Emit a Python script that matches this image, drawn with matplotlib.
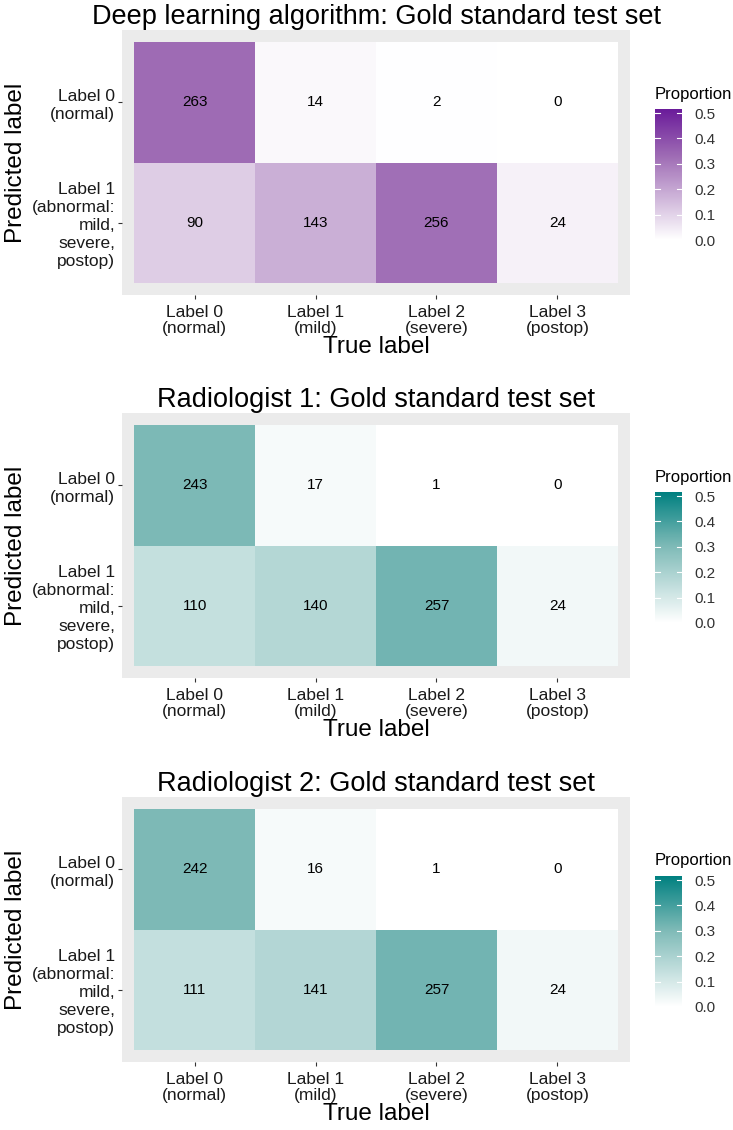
import numpy as np
import matplotlib
matplotlib.use("Agg")
import matplotlib.pyplot as plt
from matplotlib.colors import LinearSegmentedColormap, Normalize
from matplotlib.colorbar import ColorbarBase

plt.rcParams["font.family"] = ["Liberation Sans", "DejaVu Sans"]

# %% Datos

true_labels = ["Label 0\n(normal)", "Label 1\n(mild)", "Label 2\n(severe)", "Label 3\n(postop)"]
pred_labels = ["Label 0\n(normal)", "Label 1\n(abnormal:\nmild,\nsevere,\npostop)"]

titulos = ["Deep learning algorithm: Gold standard test set",
           "Radiologist 1: Gold standard test set",
           "Radiologist 2: Gold standard test set"]

# filas: prediccion 0, prediccion 1 ; columnas: etiqueta real 0..3
deep = [[263, 14, 2, 0],
        [90, 143, 256, 24]]
rad1 = [[243, 17, 1, 0],
        [110, 140, 257, 24]]
rad2 = [[242, 16, 1, 0],
        [111, 141, 257, 24]]

matrices = [deep, rad1, rad2]
# blanco -> color intermedio -> color alto (imita la interpolacion de ggplot)
paletas = [["#FFFFFF", "#9E6BB4", "#6A1B9A"],
           ["#FFFFFF", "#7CB9B6", "#008080"],
           ["#FFFFFF", "#7CB9B6", "#008080"]]
pos_medio = [0.644, 0.595, 0.595]
vmax = 0.516

# %% Grafico

W, H = 733, 1130
fig = plt.figure(figsize=(W / 100, H / 100), dpi=100)

panel_tops = [30, 413, 797]
panel_h = 265

for k in range(3):
    m = np.array(matrices[k], dtype=float)
    prop = m / m.sum()
    cmap = LinearSegmentedColormap.from_list(
        "c%d" % k, list(zip([0, pos_medio[k], 1], paletas[k])))
    norm = Normalize(0, vmax)

    top = panel_tops[k]
    ax = fig.add_axes([122 / W, 1 - (top + panel_h) / H, 508 / W, panel_h / H])
    ax.set_facecolor("#EBEBEB")
    for s in ax.spines.values():
        s.set_visible(False)

    for i in range(2):
        for j in range(4):
            ax.add_patch(plt.Rectangle((j - 0.5, i - 0.5), 1, 1, facecolor=cmap(norm(prop[i, j])),
                                       edgecolor="none"))
            ax.text(j, i, "%d" % m[i, j], ha="center", va="center", fontsize=11, color="black")

    ax.set_xlim(-0.6, 3.6)
    ax.set_ylim(1.6, -0.6)
    ax.set_xticks(range(4))
    ax.set_xticklabels(true_labels, fontsize=12.5, color="#1A1A1A", linespacing=1.1)
    ax.set_yticks(range(2))
    ax.set_yticklabels(pred_labels, fontsize=12.5, color="#1A1A1A", linespacing=1.25, ha="right")
    ax.tick_params(axis="x", length=3, width=0.8, color="#333333", pad=4)
    ax.tick_params(axis="y", length=3, width=0.8, color="#333333", pad=2)
    ax.set_xlabel("True label", fontsize=17.5, labelpad=0)
    ax.set_ylabel("Predicted label", fontsize=17.5, labelpad=3)
    ax.set_title(titulos[k], fontsize=19.5, pad=4)

    # Barra de color
    cax = fig.add_axes([655 / W, 1 - (top + 210) / H, 27 / W, 131 / H])
    cb = ColorbarBase(cax, cmap=cmap, norm=norm, orientation="vertical")
    cb.outline.set_visible(False)
    cb.set_ticks([0, 0.1, 0.2, 0.3, 0.4, 0.5])
    cb.set_ticklabels(["0.0", "0.1", "0.2", "0.3", "0.4", "0.5"])
    cax.tick_params(length=0, labelsize=11, colors="#333333", pad=9)
    for t in [0.1, 0.2, 0.3, 0.4, 0.5]:
        cax.plot([0, 0.2], [t, t], color="white", lw=0.8)
        cax.plot([0.8, 1.0], [t, t], color="white", lw=0.8)
    cax.set_xlim(0, 1)
    fig.text(655 / W, 1 - (top + 64) / H, "Proportion", fontsize=12, ha="left", va="center")

fig.savefig("out.png", dpi=100)
